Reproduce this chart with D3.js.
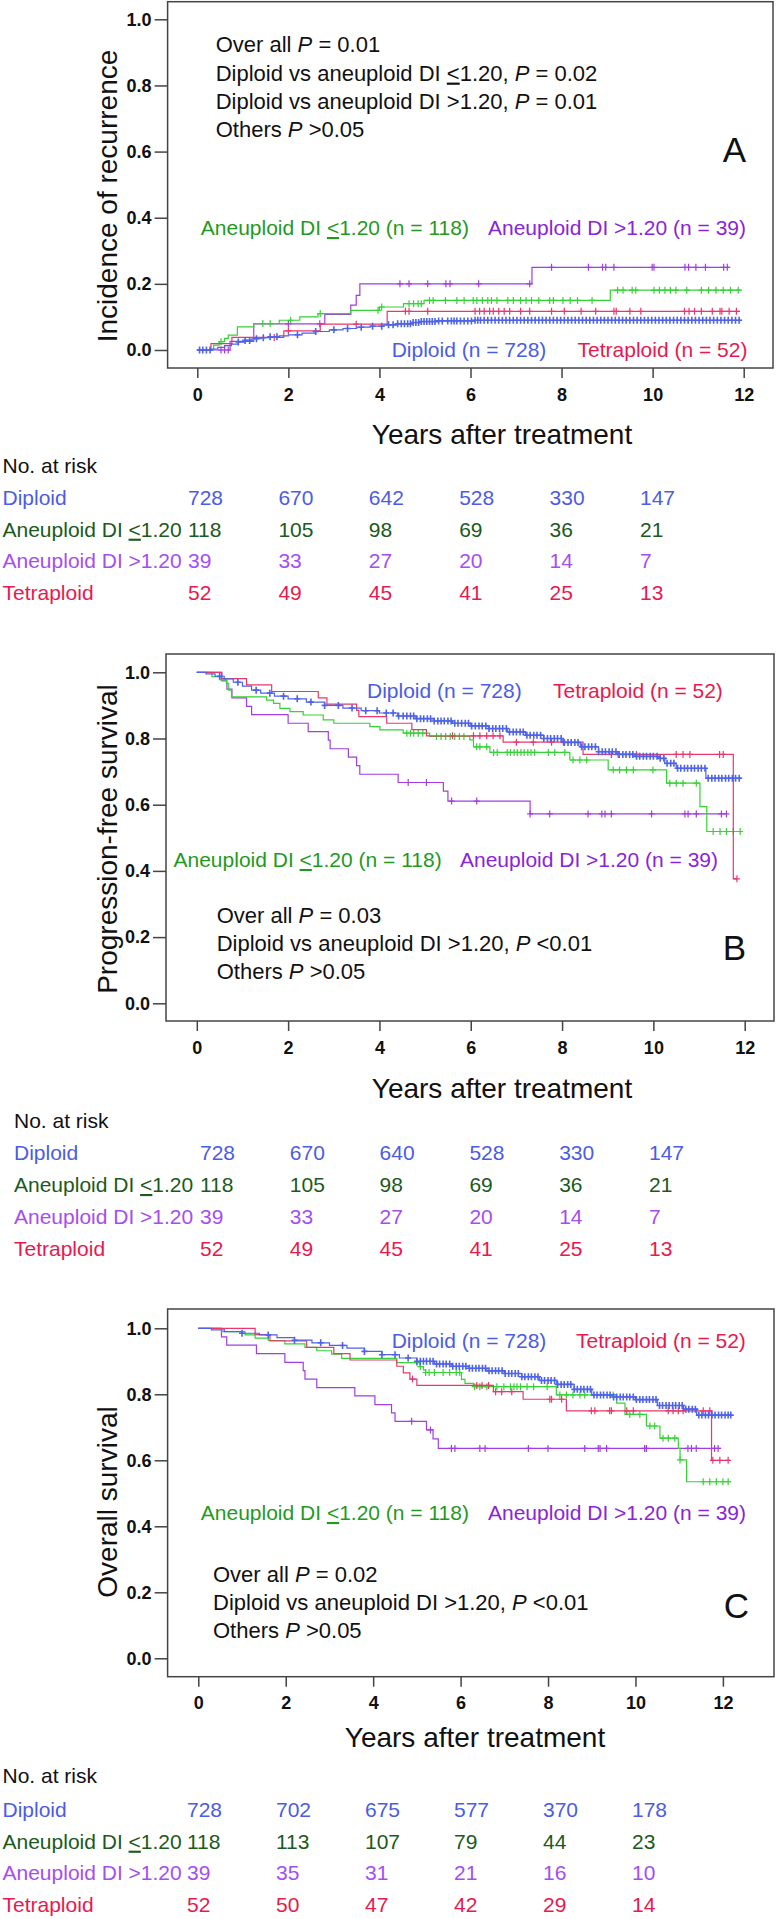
<!DOCTYPE html>
<html>
<head>
<meta charset="utf-8">
<style>
    body { margin: 0; background: #fff; }
    svg { display: block; font-family: "Liberation Sans", Arial, sans-serif; }
    text { white-space: pre; }
    .axis { font-family: "Liberation Sans", Arial, sans-serif; }
    .axis text { font-size: 18px; font-weight: bold; fill: #111; }
    .axis line { stroke: #444; stroke-width: 1.5px; }
    .box { fill: none; stroke: #444; stroke-width: 1.5px; }
    .ytitle, .xtitle { font-size: 28px; fill: #111; }
    .note { font-size: 22px; fill: #111; }
    .legend { font-size: 21px; }
    .risk { font-size: 21px; }
    .letter { font-size: 35px; fill: #111; }
</style>
<script src="https://d3js.org/d3.v7.min.js"></script>
</head>
<body>
<svg id="chart" width="776" height="1919"></svg>
<script>

    var xTicks = [0, 2, 4, 6, 8, 10, 12];
    var yTicks = [0, 0.2, 0.4, 0.6, 0.8, 1.0];
    var riskTimes = [0, 2, 4, 6, 8, 10];
    // "_<_" = underlined "<"
    var groupNames = ["Diploid", "Aneuploid DI _<_1.20", "Aneuploid DI >1.20", "Tetraploid"];
    var groupSizes = [728, 118, 39, 52];

    var curveColors = ["#4e62ea", "#35d335", "#a23ee0", "#e8386c"];
    var legendColors = ["#4b5ce6", "#1f9a1f", "#8a24d8", "#e8194e"];
    var riskColors = ["#4b5ce6", "#1b5a1b", "#a64df0", "#e8194e"];

    // ---- A: incidence of recurrence  [time, value] step points, last = end of follow-up
    var aDipSteps = [[0,0],[0.3,0.003],[0.45,0.008],[0.6,0.013],[0.75,0.018],[0.9,0.024],[1.05,0.029],[1.2,0.034],[1.4,0.037],[1.6,0.04],[1.8,0.043],[2.0,0.046],[2.3,0.051],[2.6,0.056],[2.9,0.061],[3.2,0.065],[3.5,0.069],[3.8,0.072],[4.1,0.076],[4.4,0.079],[4.7,0.083],[4.9,0.086],[5.3,0.088],[6.1,0.09],[11.95,0.09]];
    var aAn1Steps = [[0,0],[0.36,0.015],[0.48,0.025],[0.6,0.035],[0.68,0.045],[0.88,0.07],[1.24,0.08],[1.8,0.09],[2.25,0.1],[2.65,0.11],[3.37,0.12],[4.0,0.13],[4.53,0.14],[4.98,0.15],[9.07,0.181],[11.96,0.181]];
    var aAn2Steps = [[0,0],[0.72,0.026],[1.24,0.079],[2.8,0.108],[3.37,0.136],[3.49,0.165],[3.57,0.2],[7.35,0.25],[11.68,0.25]];
    var aTetSteps = [[0,0],[0.3,0.019],[0.76,0.038],[1.9,0.058],[2.7,0.078],[4.17,0.117],[11.92,0.117]];

    var aDipCens = [0.05,0.12,0.2,0.28,0.9,1.05,1.15,1.3,1.45,1.6,1.75,2.2,2.6,3.0,3.3,3.6,3.85,4.05,4.2,4.3,4.4,4.48,4.55,4.62,4.68,4.74,4.8,4.86,4.92,4.98,5.04,5.1,5.16,5.22,5.3,5.38,5.5,5.58,5.64,5.7,5.78,5.86,5.94,6.02,6.1,6.16,6.22,6.3,6.38,6.46,6.54,6.62,6.7,6.78,6.86,6.94,7.02,7.1,7.18,7.26,7.34,7.42,7.5,7.58,7.66,7.74,7.82,7.9,7.98,8.06,8.14,8.22,8.3,8.38,8.46,8.54,8.62,8.7,8.78,8.86,8.94,9.02,9.1,9.18,9.26,9.34,9.42,9.5,9.58,9.66,9.74,9.82,9.9,9.98,10.06,10.14,10.22,10.3,10.38,10.46,10.54,10.62,10.7,10.78,10.86,10.94,11.02,11.1,11.18,11.26,11.34,11.42,11.5,11.58,11.66,11.74,11.82,11.9];
    var aAn1Cens = [0.52,1.44,1.6,2.05,2.7,3.97,4.05,4.65,4.75,4.85,4.92,5.1,5.18,5.45,5.7,5.86,6.06,6.14,6.26,6.38,6.46,6.58,6.82,6.94,7.1,7.22,7.34,7.5,7.74,7.82,8.03,8.19,8.35,8.67,9.23,9.35,9.55,9.63,10.03,10.15,10.27,10.39,10.51,10.75,11.07,11.23,11.39,11.55,11.71,11.88];
    var aAn2Cens = [0.52,0.6,0.68,2.0,2.69,4.45,4.65,5.06,5.46,5.55,6.18,7.3,7.78,8.59,8.9,8.97,9.15,9.99,10.03,10.71,10.79,10.95,11.16,11.56,11.64];
    var aTetCens = [1.69,2.0,3.49,4.57,4.65,5.06,6.1,6.2,6.3,6.42,6.5,6.62,6.74,6.86,7.1,7.3,7.78,8.06,8.43,8.75,9.15,9.2,9.5,9.74,10.7,10.8,10.92,11.07,11.31,11.48,11.52,11.68,11.84];

    // ---- B: progression-free survival
    var bDipSteps = [[0,1],[0.2,0.995],[0.4,0.988],[0.6,0.98],[0.8,0.97],[1.0,0.958],[1.2,0.946],[1.4,0.937],[1.7,0.928],[2.0,0.92],[2.4,0.91],[2.8,0.9],[3.2,0.892],[3.6,0.884],[4.0,0.877],[4.4,0.868],[4.8,0.86],[5.2,0.853],[5.6,0.846],[6.0,0.838],[6.4,0.83],[6.8,0.82],[7.2,0.81],[7.6,0.8],[8.0,0.788],[8.4,0.775],[8.8,0.76],[9.2,0.752],[9.6,0.746],[10.1,0.74],[10.25,0.725],[10.5,0.71],[11.15,0.68],[11.93,0.68]];
    var bAn1Steps = [[0,1],[0.33,0.987],[0.51,0.977],[0.65,0.966],[0.7,0.946],[0.76,0.926],[1.53,0.916],[1.68,0.906],[1.82,0.891],[2.04,0.881],[2.33,0.871],[2.77,0.856],[3.0,0.846],[3.79,0.836],[4.01,0.826],[4.52,0.816],[5.1,0.806],[5.98,0.796],[6.06,0.775],[6.42,0.758],[8.17,0.735],[9.01,0.705],[10.29,0.665],[11.02,0.594],[11.17,0.519],[11.93,0.519]];
    var bAn2Steps = [[0,1],[0.55,0.974],[0.66,0.949],[0.77,0.923],[1.09,0.897],[1.2,0.872],[2.0,0.846],[2.44,0.821],[2.88,0.795],[2.92,0.769],[3.32,0.744],[3.5,0.718],[3.57,0.692],[4.41,0.667],[5.4,0.641],[5.5,0.611],[7.3,0.572],[11.6,0.572]];
    var bTetSteps = [[0,1],[0.54,0.981],[1.09,0.962],[1.64,0.942],[2.66,0.923],[2.85,0.904],[3.5,0.885],[3.55,0.866],[4.16,0.846],[4.71,0.827],[5.03,0.808],[6.71,0.789],[8.46,0.752],[11.75,0.376],[11.83,0.376]];

    var bDipCens = [0.5,0.9,1.3,1.6,1.9,2.2,2.5,2.8,3.1,3.4,3.7,3.95,4.15,4.3,4.42,4.52,4.6,4.68,4.75,4.82,4.9,4.97,5.05,5.12,5.2,5.28,5.35,5.42,5.5,5.57,5.65,5.72,5.8,5.88,5.95,6.02,6.1,6.18,6.25,6.33,6.4,6.48,6.55,6.63,6.7,6.78,6.85,6.93,7.0,7.08,7.15,7.23,7.3,7.38,7.45,7.53,7.6,7.68,7.75,7.83,7.9,7.98,8.05,8.13,8.2,8.28,8.35,8.43,8.5,8.58,8.65,8.73,8.8,8.88,8.95,9.03,9.1,9.18,9.25,9.33,9.4,9.48,9.55,9.63,9.7,9.78,9.85,9.93,10.0,10.08,10.15,10.23,10.3,10.38,10.45,10.53,10.6,10.68,10.75,10.83,10.9,10.98,11.05,11.13,11.2,11.28,11.35,11.43,11.5,11.58,11.65,11.73,11.8,11.88];
    var bAn1Cens = [4.6,4.68,4.75,4.85,4.95,5.25,5.35,5.45,5.55,5.65,5.75,5.85,6.13,6.2,6.35,6.5,6.58,6.8,6.87,6.95,7.02,7.1,7.17,7.25,7.32,7.4,7.7,7.84,8.06,8.24,8.39,8.54,9.12,9.26,9.41,9.56,9.99,10.36,10.5,10.65,10.94,11.31,11.46,11.6,11.75,11.9];
    var bAn2Cens = [4.63,5.03,5.58,6.13,7.3,7.73,8.57,8.87,8.94,9.08,9.96,10.69,10.76,10.94,11.49,11.6];
    var bTetCens = [5.6,6.06,6.2,6.35,6.49,6.64,7.0,7.37,7.77,8.03,9.08,9.23,9.63,10.5,10.65,10.8,11.45,11.53,11.83];

    // ---- C: overall survival
    var cDipSteps = [[0,1],[0.3,0.995],[0.6,0.99],[1.0,0.985],[1.4,0.98],[1.8,0.972],[2.2,0.964],[2.6,0.956],[3.0,0.948],[3.4,0.94],[3.8,0.93],[4.2,0.92],[4.6,0.91],[5.0,0.9],[5.4,0.892],[5.8,0.885],[6.2,0.879],[6.6,0.871],[7.0,0.863],[7.4,0.853],[7.8,0.842],[8.2,0.83],[8.6,0.815],[9.0,0.798],[9.5,0.792],[10.0,0.784],[10.5,0.766],[11.1,0.755],[11.4,0.737],[12.2,0.737]];
    var cAn1Steps = [[0,1],[0.53,0.99],[1.07,0.98],[1.3,0.97],[1.6,0.963],[1.98,0.953],[2.44,0.942],[2.71,0.932],[3.05,0.922],[3.28,0.909],[4.54,0.896],[5.07,0.884],[5.15,0.874],[5.2,0.866],[6.02,0.845],[6.1,0.833],[6.29,0.823],[8.19,0.798],[9.57,0.773],[9.76,0.739],[10.25,0.704],[10.56,0.667],[10.98,0.636],[11.02,0.601],[11.17,0.535],[12.19,0.535]];
    var cAn2Steps = [[0,1],[0.53,0.974],[0.65,0.949],[1.33,0.923],[1.98,0.897],[2.4,0.872],[2.44,0.846],[2.71,0.82],[3.58,0.795],[4.04,0.769],[4.42,0.744],[4.5,0.718],[5.22,0.692],[5.37,0.665],[5.49,0.636],[11.95,0.636]];
    var cTetSteps = [[0,1],[1.3,0.981],[1.64,0.962],[2.48,0.942],[3.1,0.923],[3.47,0.904],[4.54,0.885],[4.69,0.865],[4.84,0.846],[5.0,0.827],[6.75,0.808],[7.43,0.785],[8.42,0.75],[11.74,0.6],[12.16,0.6]];

    var cDipCens = [1.0,1.6,2.2,2.8,3.3,3.8,4.2,4.5,4.8,5.0,5.08,5.15,5.22,5.3,5.37,5.45,5.52,5.6,5.67,5.75,5.82,5.9,5.97,6.05,6.12,6.2,6.27,6.35,6.42,6.5,6.57,6.65,6.72,6.8,6.87,6.95,7.02,7.1,7.17,7.25,7.32,7.4,7.47,7.55,7.62,7.7,7.77,7.85,7.92,8.0,8.07,8.15,8.22,8.3,8.37,8.45,8.52,8.6,8.67,8.75,8.82,8.9,8.97,9.05,9.12,9.2,9.27,9.35,9.42,9.5,9.57,9.65,9.72,9.8,9.87,9.95,10.02,10.1,10.17,10.25,10.32,10.4,10.47,10.55,10.62,10.7,10.77,10.85,10.92,11.0,11.07,11.15,11.22,11.3,11.37,11.45,11.52,11.6,11.67,11.75,11.82,11.9,11.97,12.05,12.12,12.18];
    var cAn1Cens = [5.0,5.08,5.2,5.28,5.4,5.6,5.75,5.9,5.98,6.32,6.44,6.6,6.83,6.99,7.14,7.22,7.29,7.37,7.52,7.67,7.98,8.27,8.42,8.57,8.73,8.84,9.49,9.87,10.1,10.33,10.44,10.63,10.75,10.9,11.02,11.55,11.7,11.85,12.0,12.12];
    var cAn2Cens = [4.88,5.31,5.79,5.87,6.44,6.56,7.55,8.0,8.84,9.15,9.19,9.34,10.21,10.25,11.2,11.28,11.39,11.81,11.89];
    var cTetCens = [4.9,6.37,6.49,6.64,6.8,6.94,7.17,8.04,8.08,8.31,8.99,9.07,9.41,9.45,9.8,9.95,10.75,10.86,10.98,11.09,11.55,11.7,11.77,11.93,12.12];

    // ---- numbers at risk (rows: Diploid, DI<=1.20, DI>1.20, Tetraploid)
    var aRisk = [[728,670,642,528,330,147],[118,105,98,69,36,21],[39,33,27,20,14,7],[52,49,45,41,25,13]];
    var bRisk = [[728,670,640,528,330,147],[118,105,98,69,36,21],[39,33,27,20,14,7],[52,49,45,41,25,13]];
    var cRisk = [[728,702,675,577,370,178],[118,113,107,79,44,23],[39,35,31,21,16,10],[52,50,47,42,29,14]];

    var aNotes = ["Over all *P* = 0.01", "Diploid vs aneuploid DI _<_1.20, *P* = 0.02", "Diploid vs aneuploid DI >1.20, *P* = 0.01", "Others *P* >0.05"];
    var bNotes = ["Over all *P* = 0.03", "Diploid vs aneuploid DI >1.20, *P* <0.01", "Others *P* >0.05"];
    var cNotes = ["Over all *P* = 0.02", "Diploid vs aneuploid DI >1.20, *P* <0.01", "Others *P* >0.05"];

    var svg = d3.select("#chart");

    var panels = [
        { letter: "A", title: "Incidence of recurrence", steps: [aDipSteps, aAn1Steps, aAn2Steps, aTetSteps],
          cens: [aDipCens, aAn1Cens, aAn2Cens, aTetCens], risk: aRisk, notes: aNotes,
          box: [167.6, 1.7, 773, 368], xr: [197.3, 743.7], yr: [350, 19.3], titleY: 196,
          legend: [[391.7, 357], [200.8, 235], [488, 235], [577.6, 357]],
          noteX: 215.7, noteY: 52.3, letterX: 746, letterY: 162,
          xTitle: [502, 444], riskX: 2.5, riskHead: 473, riskY: 505, riskStep: 31.7, cols: [188, 640] },
        { letter: "B", title: "Progression-free survival", steps: [bDipSteps, bAn1Steps, bAn2Steps, bTetSteps],
          cens: [bDipCens, bAn1Cens, bAn2Cens, bTetCens], risk: bRisk, notes: bNotes,
          box: [166, 654, 774, 1021], xr: [196.8, 744.7], yr: [1003.3, 672.3], titleY: 839,
          legend: [[367, 698], [173.5, 867], [460, 867], [553, 698]],
          noteX: 216.7, noteY: 922.7, letterX: 746, letterY: 960,
          xTitle: [502, 1098], riskX: 14, riskHead: 1128, riskY: 1160, riskStep: 32, cols: [200, 649] },
        { letter: "C", title: "Overall survival", steps: [cDipSteps, cAn1Steps, cAn2Steps, cTetSteps],
          cens: [cDipCens, cAn1Cens, cAn2Cens, cTetCens], risk: cRisk, notes: cNotes,
          box: [167.6, 1309, 774, 1676.7], xr: [198.3, 722.9], yr: [1658.3, 1328.3], titleY: 1502,
          legend: [[391.7, 1348], [200.8, 1520], [488, 1520], [576, 1348]],
          noteX: 213, noteY: 1581.7, letterX: 749, letterY: 1618,
          xTitle: [475, 1746.7], riskX: 2.5, riskHead: 1783, riskY: 1817, riskStep: 31.7, cols: [187, 632] }
    ];

    // writes "*italic*" and "_underlined_" pieces as tspans
    function richText(sel, str) {
        str.split(/(\*[^*]+\*|_[^_]+_)/).filter(function(s) { return s.length; }).forEach(function(part) {
            var t = sel.append("tspan");
            if (part[0] === "*") t.style("font-style", "italic").text(part.slice(1, -1));
            else if (part[0] === "_") t.style("text-decoration", "underline").text(part.slice(1, -1));
            else t.text(part);
        });
    }

    function valueAt(steps, t) {
        var v = steps[0][1];
        steps.forEach(function(s) { if (s[0] <= t) v = s[1]; });
        return v;
    }

    panels.forEach(function(p) {
        var x = d3.scaleLinear().domain([0, 12]).range(p.xr);
        var y = d3.scaleLinear().domain([0, 1]).range(p.yr);
        var col = d3.scaleLinear().domain([0, 10]).range(p.cols);
        var g = svg.append("g");

        g.append("rect").attr("class", "box")
            .attr("x", p.box[0]).attr("y", p.box[1])
            .attr("width", p.box[2] - p.box[0]).attr("height", p.box[3] - p.box[1]);

        var xa = g.append("g").attr("class", "axis")
            .attr("transform", "translate(0," + p.box[3] + ")")
            .call(d3.axisBottom(x).tickValues(xTicks).tickSize(10).tickPadding(10));
        var ya = g.append("g").attr("class", "axis")
            .attr("transform", "translate(" + p.box[0] + ",0)")
            .call(d3.axisLeft(y).tickValues(yTicks).tickFormat(d3.format(".1f")).tickSize(13).tickPadding(3));
        xa.select(".domain").remove();
        ya.select(".domain").remove();
        g.selectAll(".axis").attr("font-family", null).attr("font-size", null);
        g.selectAll(".axis text").attr("fill", null);

        g.append("text").attr("class", "ytitle")
            .attr("transform", "translate(116.5," + p.titleY + ") rotate(-90)")
            .attr("text-anchor", "middle")
            .text(p.title);

        var line = d3.line().curve(d3.curveStepAfter)
            .x(function(d) { return x(d[0]); })
            .y(function(d) { return y(d[1]); });

        // draw order: purple, green, pink, blue on top
        [2, 1, 3, 0].forEach(function(i) {
            var steps = p.steps[i];
            g.append("path").attr("d", line(steps))
                .attr("fill", "none").attr("stroke", curveColors[i]).attr("stroke-width", 1.2);
            var d = p.cens[i].map(function(t) {
                var cx = x(t), cy = y(valueAt(steps, t));
                return "M" + (cx - 3) + "," + cy + "H" + (cx + 3) + "M" + cx + "," + (cy - 3.5) + "V" + (cy + 3.5);
            }).join("");
            g.append("path").attr("d", d)
                .attr("fill", "none").attr("stroke", curveColors[i]).attr("stroke-width", i === 0 ? 1.6 : 1.2);
        });

        // in-plot group labels
        p.legend.forEach(function(pos, i) {
            var t = g.append("text").attr("class", "legend")
                .attr("x", pos[0]).attr("y", pos[1]).attr("fill", legendColors[i]);
            richText(t, groupNames[i] + " (n = " + groupSizes[i] + ")");
        });

        p.notes.forEach(function(n, i) {
            var t = g.append("text").attr("class", "note")
                .attr("x", p.noteX).attr("y", p.noteY + i * 28.3);
            richText(t, n);
        });

        g.append("text").attr("class", "letter")
            .attr("x", p.letterX).attr("y", p.letterY).attr("text-anchor", "end")
            .text(p.letter);

        g.append("text").attr("class", "xtitle")
            .attr("x", p.xTitle[0]).attr("y", p.xTitle[1]).attr("text-anchor", "middle")
            .text("Years after treatment");

        // numbers at risk
        g.append("text").attr("class", "risk").attr("fill", "#111")
            .attr("x", p.riskX).attr("y", p.riskHead).text("No. at risk");

        p.risk.forEach(function(row, i) {
            var ry = p.riskY + i * p.riskStep;
            var lab = g.append("text").attr("class", "risk").attr("fill", riskColors[i])
                .attr("x", p.riskX).attr("y", ry);
            richText(lab, groupNames[i]);
            g.selectAll(null).data(row).enter().append("text")
                .attr("class", "risk").attr("fill", riskColors[i])
                .attr("x", function(d, j) { return col(riskTimes[j]); })
                .attr("y", ry)
                .text(function(d) { return d; });
        });
    });
</script>
</body>
</html>
